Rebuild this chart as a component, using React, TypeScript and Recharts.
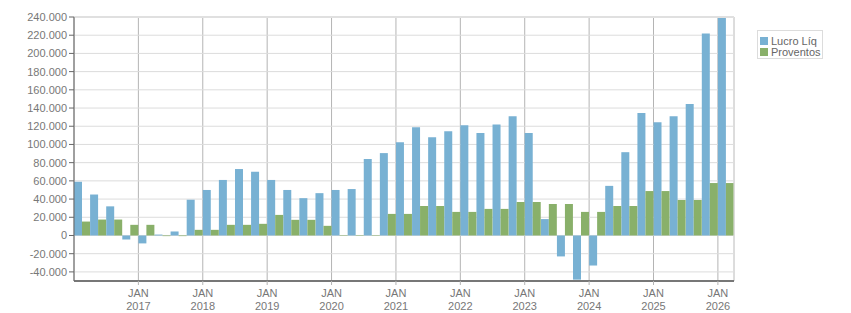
import React from 'react';
import {
  BarChart,
  Bar,
  XAxis,
  YAxis,
  CartesianGrid,
  ReferenceLine,
  Legend,
} from 'recharts';

// Quarterly periods, oldest first
const quarters = [
  '2016Q1', '2016Q2', '2016Q3', '2016Q4',
  '2017Q1', '2017Q2', '2017Q3', '2017Q4',
  '2018Q1', '2018Q2', '2018Q3', '2018Q4',
  '2019Q1', '2019Q2', '2019Q3', '2019Q4',
  '2020Q1', '2020Q2', '2020Q3', '2020Q4',
  '2021Q1', '2021Q2', '2021Q3', '2021Q4',
  '2022Q1', '2022Q2', '2022Q3', '2022Q4',
  '2023Q1', '2023Q2', '2023Q3', '2023Q4',
  '2024Q1', '2024Q2', '2024Q3', '2024Q4',
  '2025Q1', '2025Q2', '2025Q3', '2025Q4',
  '2026Q1',
];

// Net income per quarter
const lucroLiq = [
  59000, 45000, 32000, -4400,
  -8700, 1000, 4400, 39300,
  50000, 61000, 73000, 70000,
  61000, 50000, 41000, 46500,
  50000, 51000, 84000, 90500,
  102500, 119000, 108000, 114500,
  121000, 112500, 122000, 131000,
  112500, 18000, -23000, -48500,
  -33000, 54500, 91500, 134500,
  124500, 131000, 144500, 222000,
  239500,
];

// Distributions per quarter
const proventos = [
  15300, 17500, 17500, 11700,
  11700, -700, -700, 6200,
  6200, 11700, 11700, 12800,
  22600, 17200, 17200, 10600,
  500, 500, 500, 23700,
  23700, 32400, 32400, 25900,
  25900, 29200, 29200, 36800,
  36800, 34600, 34600, 25900,
  25900, 32400, 32400, 48800,
  48800, 39000, 39000, 57600,
  57600,
];

const yTicks = [
  -40000, -20000, 0, 20000, 40000, 60000, 80000, 100000, 120000,
  140000, 160000, 180000, 200000, 220000, 240000,
];

const seriesNames = ['Lucro Líq', 'Proventos'];
const seriesColors = ['#78b1d3', '#89b06a'];

// "t" is the middle of each quarter on a continuous time axis
// (quarter i spans [i, i + 1]), used for the January gridlines.
const data = quarters.map((q, i) => ({
  q,
  t: i + 0.5,
  lucro: lucroLiq[i],
  proventos: proventos[i],
}));

// January of each year sits at the start of its first quarter
const janTicks = quarters
  .map((q, i) => (q.endsWith('Q1') && i > 0 ? i : -1))
  .filter((i) => i >= 0);

const FONT = "'Liberation Sans', Arial, sans-serif";

const fmt = (v: number) => {
  const s = Math.abs(v)
    .toString()
    .replace(/\B(?=(\d{3})+(?!\d))/g, '.');
  return v < 0 ? '-' + s : s;
};

const YearTick = (props: any) => {
  const { x, y, payload } = props;
  const label = quarters[payload.value] || '';
  return (
    <g>
      <text x={x} y={y + 10} textAnchor="middle" fontFamily={FONT} fontSize={11} fill="#777">
        JAN
      </text>
      <text x={x} y={y + 23} textAnchor="middle" fontFamily={FONT} fontSize={11} fill="#777">
        {label.slice(0, 4)}
      </text>
    </g>
  );
};

const LegendBox = () => (
  <div
    style={{
      boxSizing: 'border-box',
      width: 66,
      border: '1px solid #dcdcdc',
      padding: '4px 0 1px 2px',
      fontFamily: FONT,
      fontSize: 11,
      color: '#666',
      background: '#fff',
    }}
  >
    {seriesNames.map((name, i) => (
      <div
        key={name}
        style={{ display: 'flex', alignItems: 'center', height: 11, whiteSpace: 'nowrap' }}
      >
        <span
          style={{
            display: 'inline-block',
            width: 8,
            height: 8,
            background: seriesColors[i],
            marginRight: 3,
          }}
        />
        <span>{name}</span>
      </div>
    ))}
  </div>
);

export default function App() {
  return (
    <div style={{ position: 'absolute', left: 0, top: 0, background: '#fff' }}>
      <BarChart
        width={851}
        height={313}
        data={data}
        margin={{ top: 17, right: 117, bottom: 0, left: 0 }}
        barCategoryGap={0}
        barGap={0}
      >
        <XAxis
          xAxisId="t"
          dataKey="t"
          type="number"
          domain={[0, quarters.length]}
          allowDataOverflow
          ticks={janTicks}
          interval={0}
          height={32}
          axisLine={{ stroke: '#777', strokeWidth: 2 }}
          tickLine={{ stroke: '#b4b4b4' }}
          tickSize={4}
          tick={<YearTick />}
        />
        <XAxis xAxisId="q" dataKey="q" type="category" height={0} hide />
        <YAxis
          type="number"
          domain={[-50000, 240000]}
          allowDataOverflow
          ticks={yTicks}
          interval={0}
          width={74}
          tickFormatter={fmt}
          axisLine={{ stroke: '#666' }}
          tickLine={{ stroke: '#666' }}
          tickSize={5}
          tick={{ fontFamily: FONT, fontSize: 11, fill: '#777' }}
        />
        <CartesianGrid horizontal={false} xAxisId="t" stroke="#b4b4b4" />
        <CartesianGrid vertical={false} xAxisId="t" stroke="#dcdcdc" />
        <ReferenceLine y={240000} xAxisId="t" stroke="#e0e0e0" strokeWidth={2} />
        <ReferenceLine x={quarters.length} xAxisId="t" stroke="#e0e0e0" strokeWidth={1} />
        <Bar
          xAxisId="q"
          dataKey="lucro"
          name={seriesNames[0]}
          fill={seriesColors[0]}
          isAnimationActive={false}
        />
        <Bar
          xAxisId="q"
          dataKey="proventos"
          name={seriesNames[1]}
          fill={seriesColors[1]}
          isAnimationActive={false}
        />
        <Legend
          layout="vertical"
          align="center"
          verticalAlign="middle"
          content={<LegendBox />}
          wrapperStyle={{ position: 'absolute', left: 757, top: 30, width: 66 }}
        />
      </BarChart>
    </div>
  );
}
